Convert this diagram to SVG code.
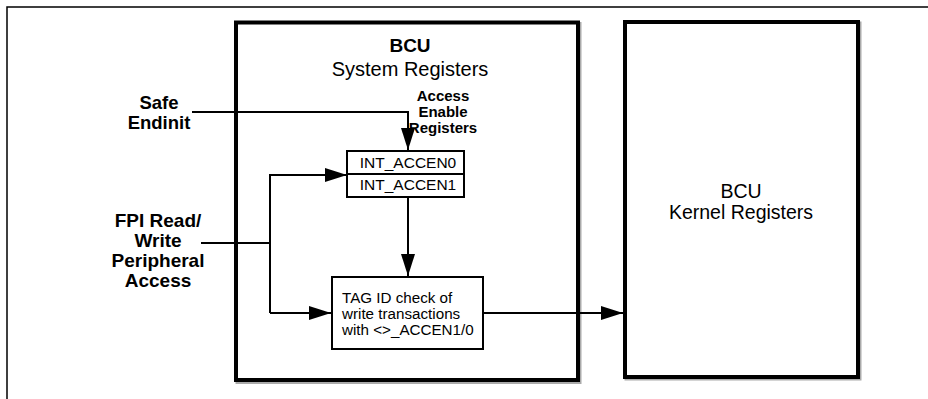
<svg xmlns="http://www.w3.org/2000/svg" width="928" height="399" viewBox="0 0 928 399">
<defs>
<style>
.frame{fill:none;stroke:#000;stroke-width:1.5}
.big{fill:#fff;stroke:#000;stroke-width:4}
.shadow{fill:none;stroke:#aaa;stroke-width:4}
.small{fill:#fff;stroke:#000;stroke-width:2}
.conn{fill:none;stroke:#000;stroke-width:2}
text{font-family:"Liberation Sans",Arial,sans-serif;fill:#000}
.b{font-weight:bold}
</style>
<marker id="arr" markerWidth="22" markerHeight="14" refX="22" refY="7" orient="auto" markerUnits="userSpaceOnUse">
<path d="M0,0 L22,7 L0,14 Z" fill="#000"/>
</marker>
</defs>
<path class="frame" d="M7,399 V7 H928"/>
<g id="system">
<rect class="shadow" x="237.5" y="24" width="342" height="358"/>
<rect class="big" x="236" y="22.5" width="342" height="357.5"/>
<text class="b" x="410" y="52" font-size="19" text-anchor="middle">BCU</text>
<text x="410" y="76" font-size="20" text-anchor="middle">System Registers</text>
<text class="b" x="443" y="101" font-size="15" text-anchor="middle">Access</text>
<text class="b" x="443" y="117" font-size="15" text-anchor="middle">Enable</text>
<text class="b" x="443" y="133" font-size="15" text-anchor="middle">Registers</text>
</g>
<g id="kernel">
<rect class="shadow" x="626.5" y="23.5" width="233" height="355"/>
<rect class="big" x="625" y="22" width="233" height="355"/>
<text x="741" y="198" font-size="19.5" text-anchor="middle">BCU</text>
<text x="741" y="219" font-size="19.5" text-anchor="middle">Kernel Registers</text>
</g>
<g id="accen">
<rect class="small" x="347" y="151" width="117" height="46"/>
<line class="conn" x1="347" y1="174" x2="464" y2="174"/>
<text x="408" y="168" font-size="15.5" text-anchor="middle">INT_ACCEN0</text>
<text x="408" y="190" font-size="15.5" text-anchor="middle">INT_ACCEN1</text>
</g>
<g id="tagcheck">
<rect class="small" x="332" y="277" width="151" height="72"/>
<text x="342" y="303" font-size="15.2">TAG ID check of</text>
<text x="342" y="319" font-size="15.2">write transactions</text>
<text x="342" y="335" font-size="15.2">with &lt;&gt;_ACCEN1/0</text>
</g>
<g id="safe-endinit">
<text class="b" x="159" y="109" font-size="18.5" text-anchor="middle">Safe</text>
<text class="b" x="159" y="129" font-size="18.5" text-anchor="middle">Endinit</text>
</g>
<g id="fpi">
<text class="b" x="158" y="227" font-size="19" text-anchor="middle">FPI Read/</text>
<text class="b" x="158" y="247" font-size="19" text-anchor="middle">Write</text>
<text class="b" x="158" y="267" font-size="19" text-anchor="middle">Peripheral</text>
<text class="b" x="158" y="287" font-size="19" text-anchor="middle">Access</text>
</g>
<g id="connectors">
<path class="conn" d="M192,112 H408 V150" marker-end="url(#arr)"/>
<path class="conn" d="M201,243 H270"/>
<path class="conn" d="M270,313 V175 H347" marker-end="url(#arr)"/>
<path class="conn" d="M270,313 H331" marker-end="url(#arr)"/>
<path class="conn" d="M408,198 V276" marker-end="url(#arr)"/>
<path class="conn" d="M484,313 H623" marker-end="url(#arr)"/>
</g>
</svg>
